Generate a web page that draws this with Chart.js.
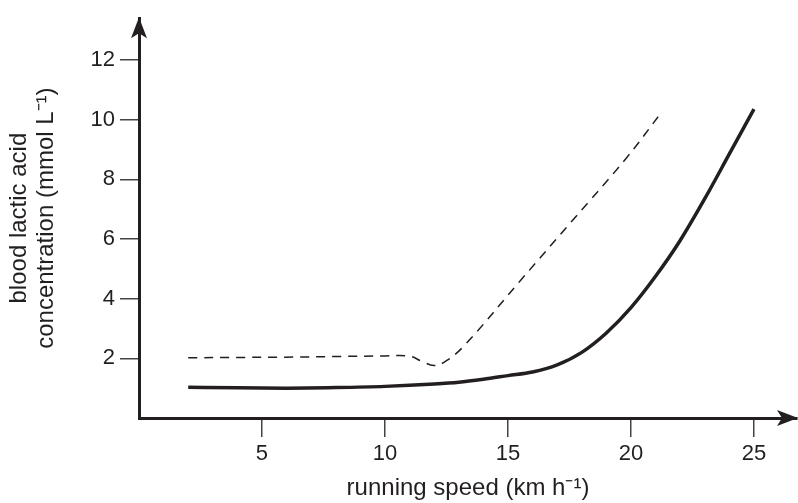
<!DOCTYPE html>
<html>
<head>
<meta charset="utf-8">
<script src="https://cdn.jsdelivr.net/npm/chart.js@4.4.1/dist/chart.umd.min.js"></script>
<style>
  html, body { margin: 0; padding: 0; background: #fff; }
  #wrap { width: 798px; height: 503px; }
</style>
</head>
<body>
<div id="wrap"><canvas id="chartLactate"></canvas></div>
<script>
// running speed (km/h) and blood lactic acid (mmol/L)
const solidSpeed   = [2, 4, 6, 8, 10, 12, 13, 14, 15, 16, 17, 18, 19, 20, 21, 22, 23, 24, 25];
const solidLactate = [1.03, 1.01, 1.0, 1.02, 1.06, 1.14, 1.2, 1.3, 1.42, 1.54, 1.78, 2.2, 2.85, 3.7, 4.75, 5.95, 7.35, 8.85, 10.35];

const dashedSpeed   = [2, 4, 6, 8, 10, 11, 11.5, 12, 12.5, 13.25, 15.5, 17.6, 19.8, 21.2];
const dashedLactate = [2.02, 2.03, 2.04, 2.06, 2.08, 2.07, 1.9, 1.76, 1.92, 2.45, 4.6, 6.6, 8.7, 10.2];

const xTicks = [5, 10, 15, 20, 25];
const yTicks = [2, 4, 6, 8, 10, 12];

const ink = '#231f20';
const fontFamily = 'Liberation Sans, Arial, sans-serif';

function toPoints(xs, ys) {
    return xs.map((x, i) => ({ x: x, y: ys[i] }));
}

// arrow heads at the end of both axes
const axisArrows = {
    id: 'axisArrows',
    afterDraw(chart) {
        const a = chart.chartArea;
        const c = chart.ctx;
        c.save();
        c.fillStyle = ink;
        // y axis arrow
        c.beginPath();
        c.moveTo(a.left, a.top - 1);
        c.lineTo(a.left - 8, a.top + 20);
        c.lineTo(a.left, a.top + 15);
        c.lineTo(a.left + 8, a.top + 20);
        c.closePath();
        c.fill();
        // x axis arrow
        c.beginPath();
        c.moveTo(a.right + 1, a.bottom);
        c.lineTo(a.right - 20, a.bottom - 8);
        c.lineTo(a.right - 15, a.bottom);
        c.lineTo(a.right - 20, a.bottom + 8);
        c.closePath();
        c.fill();
        c.restore();
    }
};

const ctx = document.getElementById('chartLactate');
const chart = new Chart(ctx, {
    type: 'line',
    data: {
        datasets: [
            {
                label: 'dashed',
                data: toPoints(dashedSpeed, dashedLactate),
                borderColor: ink,
                borderWidth: 1.5,
                borderDash: [9, 7],
                pointRadius: 0,
                tension: 0.4,
                fill: false
            },
            {
                label: 'solid',
                data: toPoints(solidSpeed, solidLactate),
                borderColor: ink,
                borderWidth: 3.5,
                pointRadius: 0,
                cubicInterpolationMode: 'monotone',
                fill: false
            }
        ]
    },
    options: {
        responsive: true,
        maintainAspectRatio: false,
        animation: false,
        layout: {
            padding: { top: 14, right: 1, left: 0, bottom: 0 }
        },
        plugins: {
            legend: { display: false },
            tooltip: { enabled: false }
        },
        scales: {
            x: {
                type: 'linear',
                min: 0,
                max: 26.75,
                afterBuildTicks: (scale) => {
                    scale.ticks = xTicks.map(v => ({ value: v }));
                },
                afterFit: (scale) => { scale.height = 85; },
                grid: {
                    drawOnChartArea: false,
                    drawTicks: true,
                    tickLength: 19,
                    color: '#444',
                    lineWidth: 1.5
                },
                border: { display: true, color: ink, width: 3 },
                ticks: {
                    color: ink,
                    padding: 4,
                    maxRotation: 0,
                    font: { family: fontFamily, size: 22 }
                },
                title: {
                    display: true,
                    text: 'running speed (km h\u207B\u00B9)',
                    color: ink,
                    padding: { top: 0, bottom: 0 },
                    font: { family: fontFamily, size: 24 }
                }
            },
            y: {
                type: 'linear',
                min: 0,
                max: 13.4,
                afterBuildTicks: (scale) => {
                    scale.ticks = yTicks.map(v => ({ value: v }));
                },
                afterFit: (scale) => { scale.width = 139; },
                grid: {
                    drawOnChartArea: false,
                    drawTicks: true,
                    tickLength: 19,
                    color: '#444',
                    lineWidth: 1.5
                },
                border: { display: true, color: ink, width: 3 },
                ticks: {
                    color: ink,
                    padding: 5,
                    font: { family: fontFamily, size: 22 }
                },
                title: {
                    display: true,
                    text: ['blood lactic acid', 'concentration (mmol L\u207B\u00B9)'],
                    color: ink,
                    padding: { top: 6 },
                    font: { family: fontFamily, size: 24, lineHeight: 1.125 }
                }
            }
        }
    },
    plugins: [axisArrows]
});
</script>
</body>
</html>
